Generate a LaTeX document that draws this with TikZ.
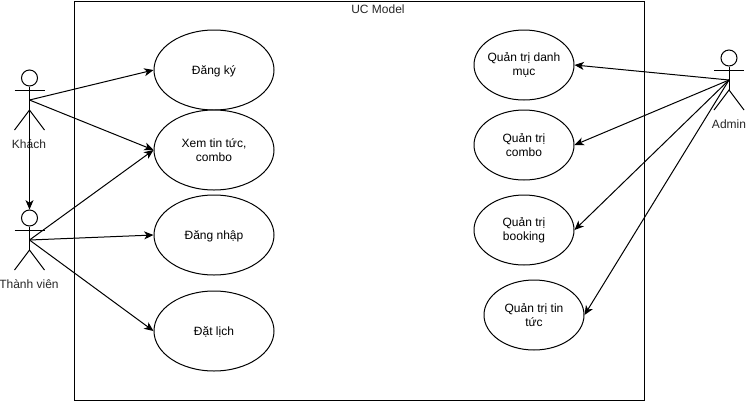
\documentclass[tikz,border=0pt]{standalone}
\usepackage{fontspec}
\setmainfont{Liberation Sans}
\usetikzlibrary{arrows.meta,positioning,calc,shapes.geometric}

\tikzset{
    usecase/.style={
        ellipse, draw=black, line width=0.75pt, fill=white,
        minimum width=90pt, minimum height=60pt,
        align=center, font=\fontsize{9}{10.5}\selectfont, inner xsep=-10pt, inner ysep=-3pt,
    },
    singlecase/.style={usecase, text height=8.5pt},
    admincase/.style={usecase, minimum width=75pt, minimum height=52.5pt},
    actorlabel/.style={font=\fontsize{9}{10.5}\selectfont, text=black!85, inner sep=0pt},
    arrow/.style={-{Stealth[length=7pt,width=6pt,inset=2pt]}, line width=0.75pt, draw=black},
    frame/.style={rectangle, draw=black, line width=0.75pt, inner sep=0pt,
        minimum width=427.5pt, minimum height=299.25pt},
    pics/actor/.style={
        code={
            \node[circle, draw=black, line width=0.75pt, minimum size=12pt, inner sep=0pt] (-head) at (0,-22) {};
            \coordinate (-hip) at (0,0);
            \draw[line width=0.75pt] (-head.south) -- (0,10);
            \draw[line width=0.75pt] (-15,-10) -- (15,-10);
            \draw[line width=0.75pt] (-15,30) -- (0,10) -- (15,30);
        }
    },
}

\begin{document}
\begin{tikzpicture}[x=0.75pt, y=-0.75pt]
\useasboundingbox (0,0) rectangle (747,401);

% System boundary
\node[frame, anchor=north west] (ucmodel) at (74,0.5) {};
\node[actorlabel] (title) at (378,9) {UC Model};

% Actors
\pic (khach) at (29.5,100) {actor};
\node[actorlabel] (khachlabel) at (29,144) {Khách};
\pic (thanhvien) at (29.5,240) {actor};
\node[actorlabel] (thanhvienlabel) at (29,284) {Thành viên};
\pic (admin) at (729,80) {actor};
\node[actorlabel] (adminlabel) at (729,124) {Admin};

% Left use cases
\node[singlecase] (dangky) at (214,70) {Đăng ký};
\node[usecase] (xemtin) at (214,150) {Xem tin tức,\\combo};
\node[singlecase] (dangnhap) at (214,235) {Đăng nhập};
\node[singlecase] (datlich) at (214,331) {Đặt lịch};

% Right use cases
\node[admincase] (qtdanhmuc) at (524,65) {Quản trị danh\\mục};
\node[admincase] (qtcombo) at (524,145) {Quản trị\\combo};
\node[admincase] (qtbooking) at (524,230) {Quản trị\\booking};
\node[admincase] (qttintuc) at (534,315) {Quản trị tin\\tức};

% Connectors
\draw[arrow] (khach-hip) -- (dangky.west);
\draw[arrow] (khach-hip) -- (xemtin.west);
\draw[arrow] (khach-hip) -- (thanhvien-head.north);
\draw[arrow] (thanhvien-hip) -- (xemtin.west);
\draw[arrow] (thanhvien-hip) -- (dangnhap.west);
\draw[arrow] (thanhvien-hip) -- (datlich.west);
\draw[arrow] (admin-hip) -- (qtdanhmuc.east);
\draw[arrow] (admin-hip) -- (qtcombo.east);
\draw[arrow] (admin-hip) -- (qtbooking.east);
\draw[arrow] (admin-hip) -- (qttintuc.east);

\end{tikzpicture}
\end{document}
